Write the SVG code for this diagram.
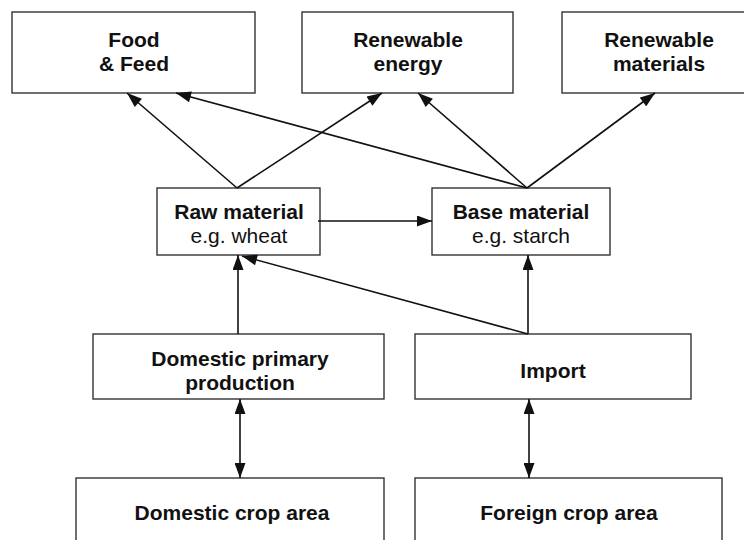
<svg xmlns="http://www.w3.org/2000/svg" width="744" height="540" viewBox="0 0 744 540">
<style>
.box{fill:#fff;stroke:#333;stroke-width:1.4}
.t{font-family:"Liberation Sans",Arial,sans-serif;font-size:21px;font-weight:bold;fill:#111;text-anchor:middle}
.r{font-weight:normal}
.c{stroke:#111;stroke-width:1.6;fill:none;marker-end:url(#ah)}
.bi{marker-start:url(#ah)}
</style>
<defs>
<marker id="ah" markerUnits="userSpaceOnUse" markerWidth="16" markerHeight="11" refX="15" refY="5.5" orient="auto-start-reverse" viewBox="0 0 15 11">
<path d="M0,0 L15,5.5 L0,11 z" fill="#111"/>
</marker>
</defs>
<rect width="744" height="540" fill="#fff"/>
<g id="food"><rect class="box" x="12" y="12" width="243" height="81"/><text class="t" x="134" y="46.5">Food</text><text class="t" x="134" y="70.5">&amp; Feed</text></g>
<g id="energy"><rect class="box" x="302" y="12" width="211" height="81"/><text class="t" x="408" y="46.5">Renewable</text><text class="t" x="408" y="70.5">energy</text></g>
<g id="materials"><rect class="box" x="562" y="12" width="194" height="81"/><text class="t" x="659" y="46.5">Renewable</text><text class="t" x="659" y="70.5">materials</text></g>
<g id="raw"><rect class="box" x="157" y="188" width="163" height="67"/><text class="t" x="239" y="219">Raw material</text><text class="t r" x="239" y="243">e.g. wheat</text></g>
<g id="base"><rect class="box" x="432" y="188" width="178" height="67"/><text class="t" x="521" y="219">Base material</text><text class="t r" x="521" y="243">e.g. starch</text></g>
<g id="domestic"><rect class="box" x="93" y="334" width="291" height="65"/><text class="t" x="240" y="366">Domestic primary</text><text class="t" x="240" y="390">production</text></g>
<g id="import"><rect class="box" x="415" y="334" width="276" height="65"/><text class="t" x="553" y="378">Import</text></g>
<g id="domcrop"><rect class="box" x="76" y="478" width="308" height="80"/><text class="t" x="232" y="520">Domestic crop area</text></g>
<g id="forcrop"><rect class="box" x="415" y="478" width="307" height="80"/><text class="t" x="569" y="520">Foreign crop area</text></g>
<g id="connectors">
<line class="c" x1="237" y1="188" x2="127" y2="93"/>
<line class="c" x1="237" y1="188" x2="382" y2="93"/>
<line class="c" x1="527" y1="188" x2="176" y2="93"/>
<line class="c" x1="527" y1="188" x2="418" y2="93"/>
<line class="c" x1="527" y1="188" x2="655" y2="93"/>
<line class="c" x1="318" y1="221" x2="432" y2="221"/>
<line class="c" x1="238" y1="334" x2="238" y2="255"/>
<line class="c" x1="528" y1="334" x2="528" y2="255"/>
<line class="c" x1="528" y1="334" x2="242" y2="256"/>
<line class="c bi" x1="240" y1="399" x2="240" y2="478"/>
<line class="c bi" x1="529" y1="399" x2="529" y2="478"/>
</g>
</svg>
